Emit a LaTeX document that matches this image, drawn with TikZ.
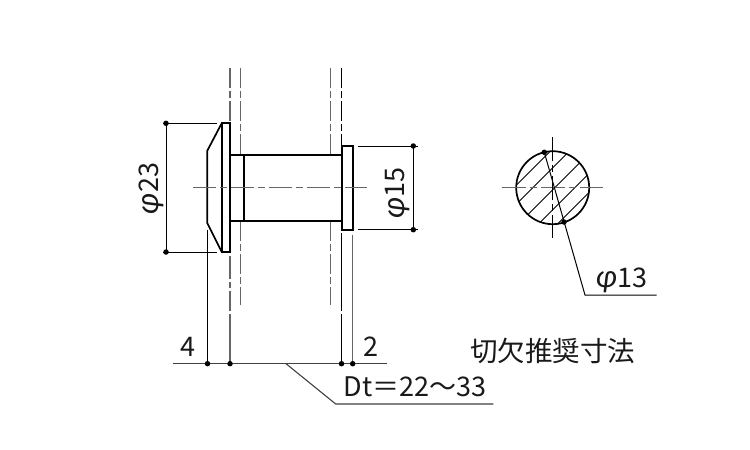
\documentclass[tikz,border=0pt]{standalone}
\usepackage{fontspec}
\setmainfont{Noto Sans CJK JP}
\newfontfamily\cjk{Noto Sans CJK JP}
\newfontfamily\phifont{Lato}
\newcommand{\phig}{{\phifont\itshape\fontsize{31}{31}\selectfont φ}}
\definecolor{gl}{HTML}{666666}
\tikzset{
  outline/.style={line width=1.7pt,black},
  thin line/.style={line width=1pt,black},
  grey line/.style={line width=1.2pt,gl},
  wall/.style={line width=1.2pt,dash pattern=on 20pt off 3pt on 7pt off 3pt},
  centre/.style={line width=1.2pt,gl,dash pattern=on 23pt off 4pt on 7pt off 4pt},
  dot/.style={circle,fill=black,inner sep=0pt,minimum size=5.5pt},
  dim text/.style={font=\fontsize{27}{27}\selectfont,inner sep=0pt,text=black!90}
}
\begin{document}
\begin{tikzpicture}[x=1pt,y=-1pt]
\useasboundingbox (0,0) rectangle (750,450);
\fill[white] (0,0) rectangle (750,450);
% walls
\draw[wall,gl] (230,68) -- (230,123);
\draw[wall,gl] (240.7,68) -- (240.7,154.7);
\draw[wall,gl] (330.3,68) -- (330.3,154.7);
\draw[wall,black,line width=1pt] (341.6,68) -- (341.6,146);
\draw[wall,gl] (240.7,221.3) -- (240.7,305);
\draw[wall,gl] (330.3,221.3) -- (330.3,305);
% viewer
\draw[outline,fill=white] (221.7,123.3) rectangle (230,252);
\draw[outline] (221.7,123.3) -- (207.3,150.7) -- (207.3,223) -- (221.7,252);
\draw[outline] (230,154.7) -- (341.7,154.7) (230,221.3) -- (341.7,221.3);
\draw[outline] (244.3,154.7) -- (244.3,221.3);
\draw[outline] (341.7,146) rectangle (352.7,229.7);
\draw[centre] (193,187.7) -- (366.7,187.7);
% extension lines
\draw[thin line] (163,123.3) -- (216.7,123.3);
\draw[thin line] (163,252) -- (216.7,252);
\draw[thin line] (358.3,146) -- (418,146);
\draw[thin line] (358.3,229.7) -- (418,229.7);
\draw[thin line] (207.3,230) -- (207.3,363.7);
\draw[grey line] (230,256) -- (230,279);
\draw[grey line] (230,282) -- (230,288);
\draw[grey line] (230,291) -- (230,311);
\draw[grey line] (230,314) -- (230,363.7);
\draw[thin line] (341.6,233) -- (341.6,311);
\draw[thin line] (341.6,314) -- (341.6,363.7);
\draw[grey line] (352.7,235) -- (352.7,363.7);
% dimension lines
\draw[thin line] (166,123.3) -- (166,252);
\draw[thin line] (413.3,146) -- (413.3,229.7);
\draw[line width=1.1pt,black!75] (173.3,363.7) -- (387.3,363.7);
\coordinate (lk) at (335.7,404);
\coordinate (le) at (493.3,404);
\draw[line width=1.1pt,black!75] (286,363.7) -- (lk) -- (le);
% dots
\node[dot] (d1) at (166,123.3) {};
\node[dot] (d2) at (166,252) {};
\node[dot] (d3) at (413.3,146) {};
\node[dot] (d4) at (413.3,229.7) {};
\node[dot] (d5) at (207.5,363.7) {};
\node[dot] (d6) at (230,363.7) {};
\node[dot] (d7) at (341.5,363.7) {};
\node[dot] (d8) at (352.7,363.7) {};
% section circle
\begin{scope}
\clip (552.7,187.7) circle (36.5);
\foreach \s in {-39,-20,2,22,41}{
  \draw[line width=.9pt] ({552.7+\s/2+60},{187.7+\s/2-60}) -- ({552.7+\s/2-60},{187.7+\s/2+60});
}
\end{scope}
\draw[outline] (552.7,187.7) circle (36.5);
\draw[centre,dash pattern=on 24pt off 4pt on 7pt off 4pt] (501.7,187.7) -- (603,187.7);
\draw[thin line,dash pattern=on 24pt off 4pt on 7pt off 4pt] (552.7,137.3) -- (552.7,238.3);
\node[dot] (c1) at (544.3,152.3) {};
\node[dot] (c2) at (564,222) {};
\coordinate (ck) at (585,295);
\coordinate (ce) at (656.7,295);
\draw[thin line] (c1.center) -- (ck) -- (ce);
% labels
\node[dim text,rotate=90] (l23) at (151.5,188.5) {\phig 23};
\node[dim text,rotate=90] (l15) at (398,193) {\phig 15};
\node[dim text] (l13) at (621.7,280) {\phig 13};
\node[dim text] (l4) at (187.7,346.7) {4};
\node[dim text] (l2) at (371,346.7) {2};
\node[dim text,font=\cjk\fontsize{27}{27}\selectfont] (ldt) at (415,387) {Dt＝22～33};
\node[dim text,font=\cjk\fontsize{27.5}{27.5}\selectfont] (ltitle) at (552.5,350.7) {切欠推奨寸法};
\end{tikzpicture}
\end{document}
